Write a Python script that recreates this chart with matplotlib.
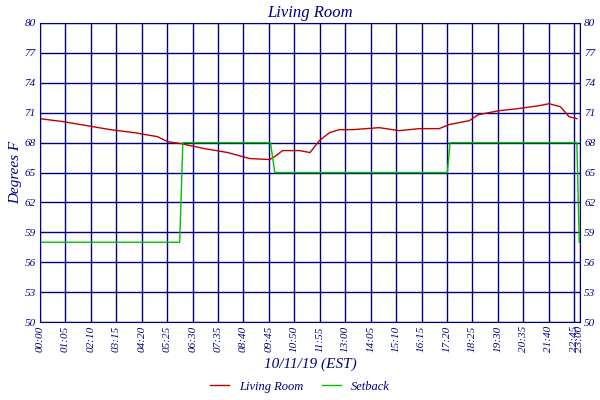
import numpy as np
import matplotlib.pyplot as plt
from matplotlib.lines import Line2D

# minutes after midnight
room_min = [0, 60, 120, 180, 240, 300, 326, 360, 420, 480, 536, 587, 600, 620, 663, 690, 714, 740,
            765, 800, 867, 918, 969, 1020, 1045, 1097, 1120, 1173, 1220, 1275, 1301, 1330, 1352, 1372]
room_temp = [70.4, 70.1, 69.7, 69.3, 69.0, 68.6, 68.1, 67.9, 67.4, 67.0, 66.4, 66.3, 66.6, 67.2, 67.2,
             67.0, 68.2, 69.0, 69.3, 69.3, 69.5, 69.2, 69.4, 69.4, 69.8, 70.2, 70.8, 71.2, 71.4, 71.7,
             71.9, 71.6, 70.6, 70.4]
set_min = [0, 357, 365, 589, 600, 1041, 1048, 1372, 1378]
set_temp = [58, 58, 68, 68, 65, 65, 68, 68, 58]

xticks = list(range(0, 1366, 65)) + [1380]
xlabels = ['%02d:%02d' % (m // 60, m % 60) for m in xticks]
yticks = [50, 53, 56, 59, 62, 65, 68, 71, 74, 77, 80]

navy = '#000080'
font = 'Liberation Serif'

fig = plt.figure(figsize=(6, 4), dpi=100)
ax = fig.add_axes([40/600, 1 - 322/400, 540/600, 299/400])
ax.plot(room_min, room_temp, color='#c00000', lw=1)
ax.plot(set_min, set_temp, color='#00c000', lw=1)
ax.set_xlim(0, 1380)
ax.set_ylim(50, 80)
ax.set_xticks(xticks)
ax.set_xticklabels(xlabels, rotation=90, fontsize=8, color=navy, family=font, style='italic')
ax.set_yticks(yticks)
ax.set_yticklabels([str(v) for v in yticks], fontsize=8, color=navy, family=font, style='italic')
ax.tick_params(length=0, pad=3, right=True, labelright=True)
ax.grid(True, color=navy, lw=1)
for s in ax.spines.values():
    s.set_color(navy)
ax.set_title('Living Room', fontsize=12, color=navy, family=font, style='italic', pad=4)
ax.set_ylabel('Degrees F', fontsize=11, color=navy, family=font, style='italic', labelpad=2)
ax.set_xlabel('10/11/19 (EST)', fontsize=11, color=navy, family=font, style='italic', labelpad=4)

handles = [Line2D([], [], color='#c00000', lw=1), Line2D([], [], color='#00c000', lw=1)]
fig.legend(handles, ['Living Room', 'Setback'], loc='lower center', ncol=2, frameon=False,
           bbox_to_anchor=(0.5, -0.01), handlelength=1.5, columnspacing=1.5,
           prop={'family': font, 'style': 'italic', 'size': 9}, labelcolor=navy)

fig.savefig('out.png')
